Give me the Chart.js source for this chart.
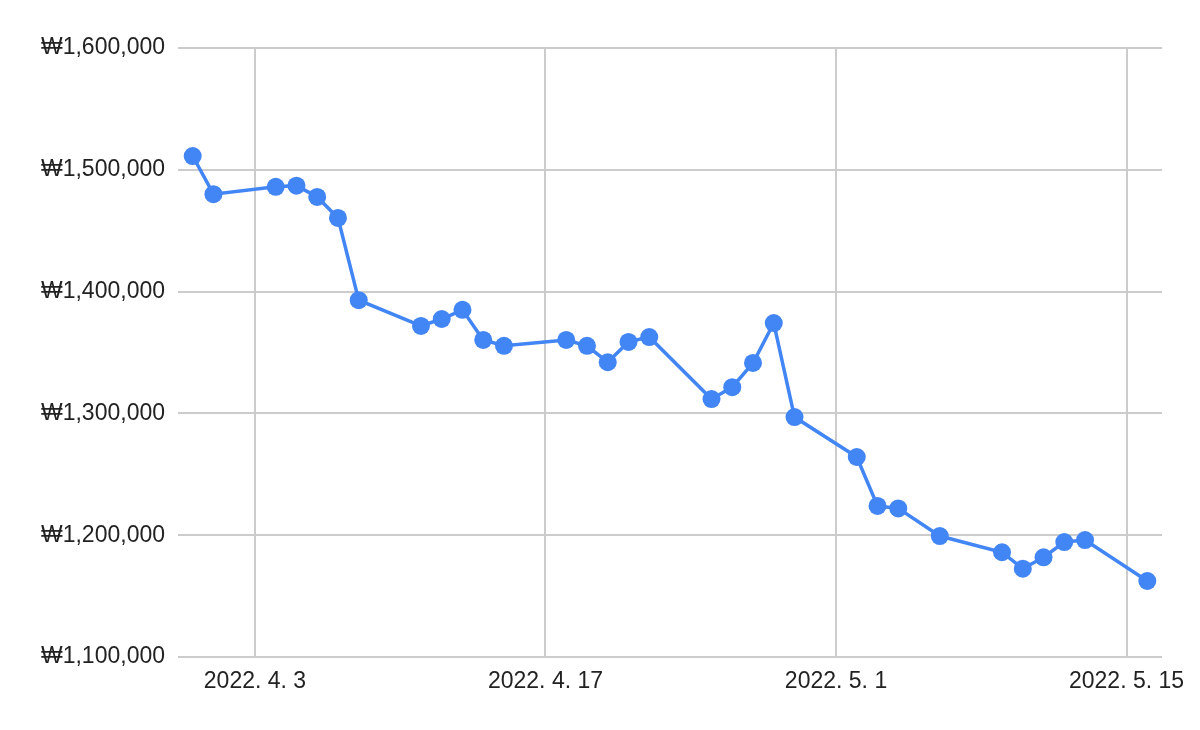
<!DOCTYPE html>
<html>
<head>
<meta charset="utf-8">
<script src="https://cdn.jsdelivr.net/npm/chart.js@4/dist/chart.umd.min.js"></script>
<style>
html,body{margin:0;padding:0;background:#fff;}
#wrap{width:1200px;height:730px;position:relative;}
</style>
</head>
<body>
<div id="wrap"><canvas id="c" width="1200" height="730"></canvas></div>
<script>
const dates = ["2022-03-31","2022-04-01","2022-04-04","2022-04-05","2022-04-06","2022-04-07","2022-04-08",
  "2022-04-11","2022-04-12","2022-04-13","2022-04-14","2022-04-15",
  "2022-04-18","2022-04-19","2022-04-20","2022-04-21","2022-04-22",
  "2022-04-25","2022-04-26","2022-04-27","2022-04-28","2022-04-29",
  "2022-05-02","2022-05-03","2022-05-04","2022-05-06",
  "2022-05-09","2022-05-10","2022-05-11","2022-05-12","2022-05-13","2022-05-16"];
const values = [1511300,1480000,1486000,1487000,1477700,1460500,1393000,
  1371800,1377500,1385000,1360300,1355500,
  1360300,1355500,1342000,1358700,1362700,
  1311800,1321500,1341400,1374200,1297000,
  1264200,1224000,1222000,1199300,
  1186000,1172500,1181800,1194400,1196000,1162400];
const xTickDates = ["2022-04-03","2022-04-17","2022-05-01","2022-05-15"];
const yTicks = [1100000,1200000,1300000,1400000,1500000,1600000];
const xRange = ["2022-03-30T07:00","2022-05-16T17:00"];

const DAY = 86400000;
const base = Date.UTC(2022,0,1);
function dayNum(s){
  const [d,t] = s.split("T");
  const [y,m,dd] = d.split("-").map(Number);
  let h = 0;
  if (t) h = Number(t.split(":")[0]);
  return (Date.UTC(y,m-1,dd,h) - base)/DAY;
}
function fmtDate(n){
  const dt = new Date(base + Math.round(n)*DAY);
  return dt.getUTCFullYear()+". "+(dt.getUTCMonth()+1)+". "+dt.getUTCDate();
}
const pts = dates.map((d,i)=>({x:dayNum(d), y:values[i]}));
const FONT = "'Liberation Sans', Arial, sans-serif";
const blue = "#4285F4";

new Chart(document.getElementById("c"), {
  type: "line",
  data: { datasets: [{
    data: pts,
    borderColor: blue, backgroundColor: blue,
    borderWidth: 3.5, pointRadius: 9, pointHoverRadius: 9,
    pointBackgroundColor: blue, pointBorderWidth: 0, tension: 0
  }]},
  options: {
    responsive: false, animation: false,
    layout: { padding: { left: 0, right: 38, top: 48, bottom: 0 } },
    plugins: { legend: { display: false }, tooltip: { enabled: false } },
    scales: {
      x: {
        type: "linear",
        min: dayNum(xRange[0]), max: dayNum(xRange[1]),
        afterBuildTicks: s => { s.ticks = xTickDates.map(d => ({value: dayNum(d)})); },
        afterFit: s => { s.height = 730 - 657; },
        grid: { color: "#cccccc", lineWidth: 2, drawTicks: false },
        border: { display: false },
        ticks: { callback: v => fmtDate(v), color: "#222", font: { family: FONT, size: 23 }, padding: 11, maxRotation: 0, autoSkip: false }
      },
      y: {
        min: 1100000, max: 1600000,
        afterBuildTicks: s => { s.ticks = yTicks.map(v => ({value: v})); },
        afterFit: s => { s.width = 178; },
        grid: { color: "#cccccc", lineWidth: 2, drawTicks: false },
        border: { display: false },
        ticks: { callback: v => "₩" + v.toLocaleString("en-US"), color: "#222", font: { family: FONT, size: 23 }, padding: 13 }
      }
    }
  }
});
</script>
</body>
</html>
